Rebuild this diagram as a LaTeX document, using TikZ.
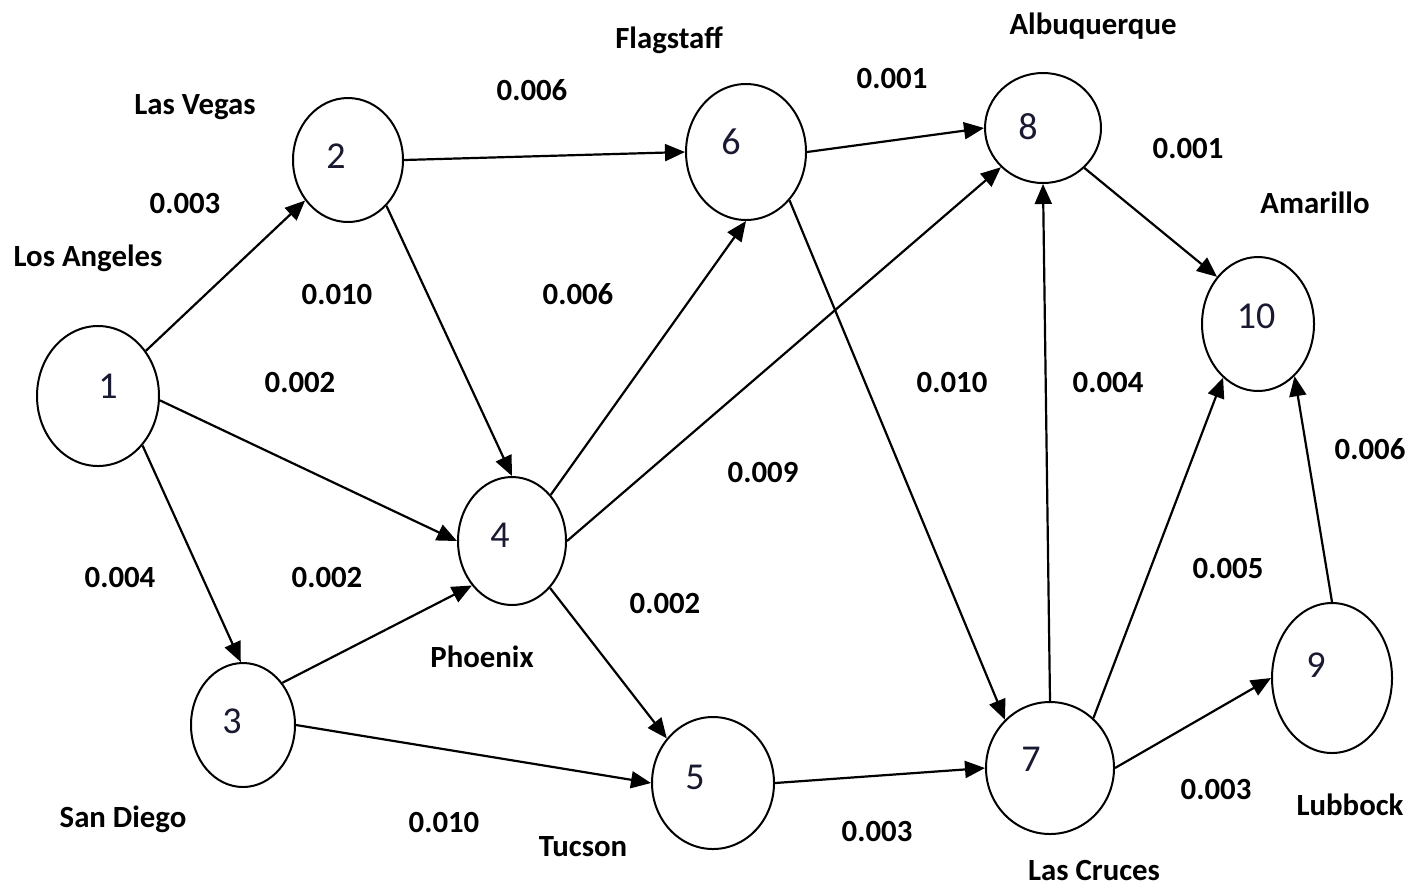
\documentclass[tikz,border=0pt]{standalone}
\usepackage{fontspec}
\setmainfont{Carlito}
\usetikzlibrary{arrows.meta,shapes.geometric}
\definecolor{numcol}{RGB}{25,25,50}
\begin{document}
\begin{tikzpicture}[x=0.5pt,y=-0.5pt,
  city/.style={ellipse,draw,line width=1pt,inner sep=0pt},
  num/.style={font=\fontsize{19}{21}\selectfont,text=numcol,inner sep=0pt},
  lbl/.style={font=\bfseries\fontsize{15.4}{18}\selectfont,inner sep=0pt},
  edge/.style={line width=1.1pt,-{Triangle[length=10pt,width=8.5pt]}}]
\useasboundingbox (0,0) rectangle (1416,885);
% nodes
\node[city,minimum width=61pt,minimum height=70pt,label={[num,xshift=5pt,yshift=5pt]center:1}] (n1) at (98,396) {};
\node[city,minimum width=55pt,minimum height=62pt,label={[num,xshift=-6pt,yshift=2pt]center:2}] (n2) at (348,160) {};
\node[city,minimum width=52pt,minimum height=62pt,label={[num,xshift=-5.5pt,yshift=2pt]center:3}] (n3) at (243,725) {};
\node[city,minimum width=54pt,minimum height=64pt,label={[num,xshift=-6pt,yshift=3pt]center:4}] (n4) at (512,541) {};
\node[city,minimum width=61pt,minimum height=66pt,label={[num,xshift=-9pt,yshift=3pt]center:5}] (n5) at (713,783) {};
\node[city,minimum width=60pt,minimum height=68pt,label={[num,xshift=-7.5pt,yshift=5pt]center:6}] (n6) at (746,152) {};
\node[city,minimum width=64pt,minimum height=66pt,label={[num,xshift=-9.5pt,yshift=4.5pt]center:7}] (n7) at (1050,768) {};
\node[city,minimum width=58pt,minimum height=55pt,label={[num,xshift=-7.5pt,yshift=0.5pt]center:8}] (n8) at (1043,128) {};
\node[city,minimum width=60pt,minimum height=75pt,label={[num,xshift=-8pt,yshift=6.5pt]center:9}] (n9) at (1332,678) {};
\node[city,minimum width=56pt,minimum height=67pt,label={[num,xshift=-1pt,yshift=4pt]center:10}] (n10) at (1258,324) {};
% edges
\draw[edge] (n1) -- (n2);
\draw[edge] (n1.-4) -- (n4.west);
\draw[edge] (n1.-48) -- (n3.92);
\draw[edge] (n2.-50) -- (n4.north);
\draw[edge] (n2.east) -- (n6.west);
\draw[edge] (n6.east) -- (n8.west);
\draw[edge] (n3.47) -- (n4.228);
\draw[edge] (n3.east) -- (n5.west);
\draw[edge] (n4.50) -- (n6.south);
\draw[edge] (n4.east) -- (n8.223);
\draw[edge] (n4.-51) -- (n5.136);
\draw[edge] (n6.-48) -- (n7.133);
\draw[edge] (n5.east) -- (n7.west);
\draw[edge] (n7.north) -- (n8.south);
\draw[edge] (n7.49) -- (n10.237);
\draw[edge] (n7.east) -- (n9.west);
\draw[edge] (n9.north) -- (n10.-55);
\draw[edge] (n8.-44) -- (n10.131);
% city names
\node[lbl] (tLA) at (88,258) {Los Angeles};
\node[lbl] (tLV) at (195,107) {Las Vegas};
\node[lbl] (tSD) at (123,819) {San Diego};
\node[lbl] (tPH) at (482,657) {Phoenix};
\node[lbl] (tTU) at (583,847) {Tucson};
\node[lbl] (tFL) at (669,40) {Flagstaff};
\node[lbl] (tAL) at (1093,26) {Albuquerque};
\node[lbl] (tAM) at (1315,203) {Amarillo};
\node[lbl] (tLC) at (1094,870) {Las Cruces};
\node[lbl] (tLU) at (1350,805) {Lubbock};
% weights
\node[lbl] (w12) at (185,203) {0.003};
\node[lbl] (w24) at (337,294) {0.010};
\node[lbl] (w14) at (300,382) {0.002};
\node[lbl] (w13) at (120,577) {0.004};
\node[lbl] (w34) at (327,577) {0.002};
\node[lbl] (w35) at (444,822) {0.010};
\node[lbl] (w45) at (665,603) {0.002};
\node[lbl] (w48) at (763,472) {0.009};
\node[lbl] (w46) at (578,294) {0.006};
\node[lbl] (w26) at (532,90) {0.006};
\node[lbl] (w68) at (892,78) {0.001};
\node[lbl] (w810) at (1188,148) {0.001};
\node[lbl] (w67) at (952,382) {0.010};
\node[lbl] (w78) at (1108,382) {0.004};
\node[lbl] (w710) at (1228,568) {0.005};
\node[lbl] (w910) at (1370,449) {0.006};
\node[lbl] (w79) at (1216,789) {0.003};
\node[lbl] (w57) at (877,831) {0.003};
\end{tikzpicture}
\end{document}
